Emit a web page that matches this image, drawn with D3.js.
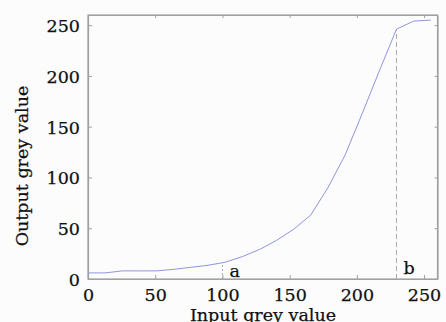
<!DOCTYPE html>
<html>
<head>
<meta charset="utf-8">
<script src="https://cdn.jsdelivr.net/npm/d3@7"></script>
<style>
  body { margin: 0; background: #fcfcfc; }
  text { font-family: "DejaVu Serif", serif; fill: #111; }
</style>
</head>
<body>
<div id="chart"></div>
<script>
// curve samples (input, output)
var inputVals = [0, 12.75, 25.5, 38.25, 51, 63.75, 76.5, 89.25, 102, 114.75, 127.5,
                 140.25, 153, 165.75, 178.5, 191.25, 204, 216.75, 229.5, 242.25, 255];
var outputVals = [6, 6, 8, 8, 8, 9.5, 11.5, 13.5, 16.5, 22, 29,
                  38, 49, 63, 90, 122, 163, 205, 246, 254, 255];
var xTicks = [0, 50, 100, 150, 200, 250];
var yTicks = [0, 50, 100, 150, 200, 250];
// marker lines: label, x, height reached
var markers = [["a", 100, 16], ["b", 229.5, 246]];

var W = 446, H = 322;
var padL = 88, padR = 437.5, padT = 15, padB = 279;
var fontSize = "17.5px";

var svg = d3.select("#chart").append("svg")
  .attr("width", W).attr("height", H);

var x = d3.scaleLinear().domain([0, 260]).range([padL, padR]);
var y = d3.scaleLinear().domain([0, 260]).range([padB, padT]);

// frame
svg.append("rect")
  .attr("x", padL).attr("y", padT)
  .attr("width", padR - padL).attr("height", padB - padT)
  .attr("fill", "none").attr("stroke", "#a0a0a0").attr("stroke-width", 1.2);

// axes with inward ticks
var xAxis = svg.append("g").attr("transform", "translate(0," + padB + ")")
  .call(d3.axisBottom(x).tickValues(xTicks).tickSizeInner(-4).tickSizeOuter(0).tickPadding(7));
var yAxis = svg.append("g").attr("transform", "translate(" + padL + ",0)")
  .call(d3.axisLeft(y).tickValues(yTicks).tickSizeInner(-4).tickSizeOuter(0).tickPadding(8));
svg.append("g").attr("transform", "translate(0," + padT + ")")
  .call(d3.axisTop(x).tickValues(xTicks).tickSizeInner(-3).tickSizeOuter(0).tickFormat(""));
svg.append("g").attr("transform", "translate(" + padR + ",0)")
  .call(d3.axisRight(y).tickValues(yTicks).tickSizeInner(-3).tickSizeOuter(0).tickFormat(""));

svg.selectAll(".domain").attr("stroke", "#a0a0a0").attr("stroke-width", 1.2);
svg.selectAll(".tick line").attr("stroke", "#a0a0a0");
svg.selectAll(".tick text").style("font-family", "DejaVu Serif").style("font-size", fontSize)
  .attr("fill", "#111").attr("stroke", "#111").attr("stroke-width", 0.25);
xAxis.selectAll(".tick text").attr("dy", "0.85em");
yAxis.selectAll(".tick text").attr("dy", "0.36em");

// marker lines
markers.forEach(function(m) {
  svg.append("line")
    .attr("x1", x(m[1])).attr("x2", x(m[1]))
    .attr("y1", padB).attr("y2", y(m[2]))
    .attr("stroke", "#aaa").attr("stroke-width", 1)
    .attr("stroke-dasharray", m[0] == "a" ? "2,2" : "5,3");
  svg.append("text")
    .attr("x", x(m[1]) + 7)
    .attr("y", m[0] == "a" ? 277 : 274)
    .style("font-size", fontSize)
    .attr("stroke", "#111").attr("stroke-width", 0.25)
    .text(m[0]);
});

// curve
var pts = inputVals.map(function(d, i) { return [d, outputVals[i]]; });
svg.append("path")
  .datum(pts)
  .attr("fill", "none")
  .attr("stroke", "#9095dc")
  .attr("stroke-width", 1)
  .attr("d", d3.line().x(function(d) { return x(d[0]); }).y(function(d) { return y(d[1]); }));

// axis titles
svg.append("text")
  .attr("x", 263).attr("y", 321)
  .attr("text-anchor", "middle")
  .style("font-size", fontSize)
  .attr("stroke", "#111").attr("stroke-width", 0.25)
  .text("Input grey value");
svg.append("text")
  .attr("transform", "translate(28,166) rotate(-90)")
  .attr("text-anchor", "middle")
  .style("font-size", fontSize)
  .attr("stroke", "#111").attr("stroke-width", 0.25)
  .text("Output grey value");
</script>
</body>
</html>
